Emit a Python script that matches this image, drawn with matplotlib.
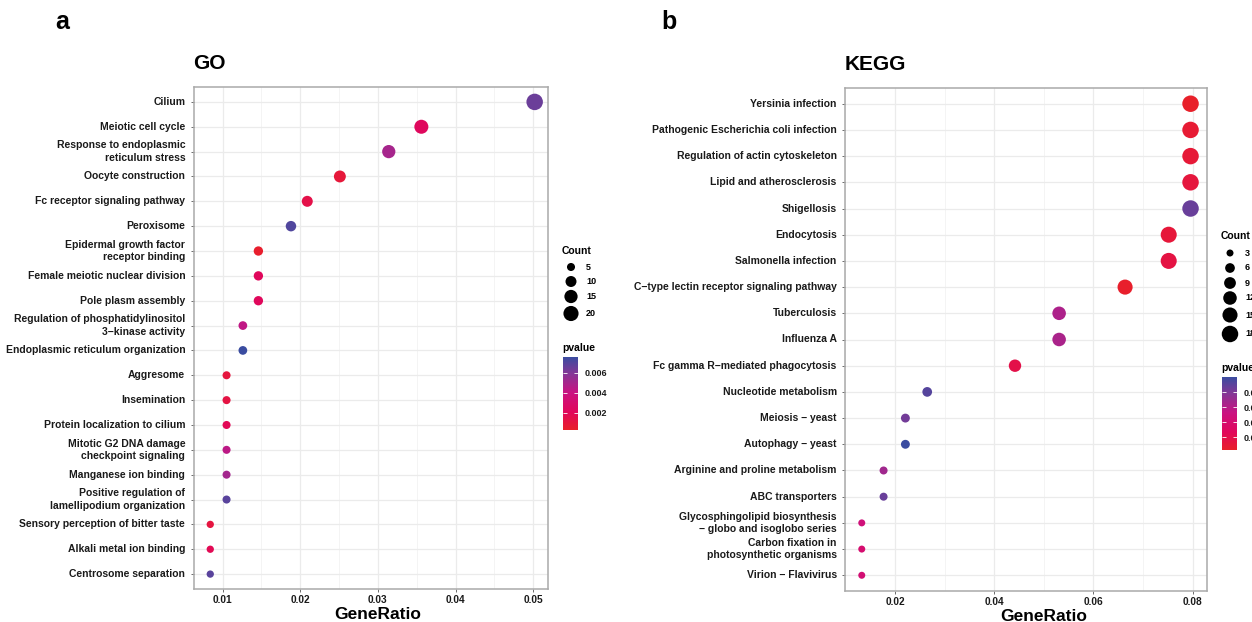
import numpy as np
import matplotlib
matplotlib.use("Agg")
import matplotlib.pyplot as plt
from matplotlib.colors import LinearSegmentedColormap, Normalize
from matplotlib.cm import ScalarMappable
from matplotlib.ticker import MultipleLocator

plt.rcParams['font.family'] = ['Liberation Sans', 'DejaVu Sans']
plt.rcParams['font.weight'] = 'bold'

# GO enrichment
go_terms = ["Cilium", "Meiotic cell cycle", "Response to endoplasmic\nreticulum stress",
            "Oocyte construction", "Fc receptor signaling pathway", "Peroxisome",
            "Epidermal growth factor\nreceptor binding", "Female meiotic nuclear division",
            "Pole plasm assembly", "Regulation of phosphatidylinositol\n3\u2212kinase activity",
            "Endoplasmic reticulum organization", "Aggresome", "Insemination",
            "Protein localization to cilium", "Mitotic G2 DNA damage\ncheckpoint signaling",
            "Manganese ion binding", "Positive regulation of\nlamellipodium organization",
            "Sensory perception of bitter taste", "Alkali metal ion binding",
            "Centrosome separation"]
go_ratio = [0.0502, 0.0356, 0.0314, 0.0251, 0.0209, 0.0188, 0.0146, 0.0146, 0.0146, 0.0126,
            0.0126, 0.0105, 0.0105, 0.0105, 0.0105, 0.0105, 0.0105, 0.0084, 0.0084, 0.0084]
go_count = [24, 17, 15, 12, 10, 9, 7, 7, 7, 6, 6, 5, 5, 5, 5, 5, 5, 4, 4, 4]
go_pvalue = [0.0065, 0.0022, 0.0050, 0.00086, 0.0014, 0.0071, 0.0004, 0.0021, 0.0021, 0.0043,
             0.0076, 0.0010, 0.0012, 0.0019, 0.0044, 0.0051, 0.0069, 0.0011, 0.0018, 0.0069]
go_size_breaks = [5, 10, 15, 20]
go_p_ticks = [0.002, 0.004, 0.006]

# KEGG enrichment
kegg_terms = ["Yersinia infection", "Pathogenic Escherichia coli infection",
              "Regulation of actin cytoskeleton", "Lipid and atherosclerosis", "Shigellosis",
              "Endocytosis", "Salmonella infection", "C\u2212type lectin receptor signaling pathway",
              "Tuberculosis", "Influenza A", "Fc gamma R\u2212mediated phagocytosis",
              "Nucleotide metabolism", "Meiosis \u2212 yeast", "Autophagy \u2212 yeast",
              "Arginine and proline metabolism", "ABC transporters",
              "Glycosphingolipid biosynthesis\n\u2212 globo and isoglobo series",
              "Carbon fixation in\nphotosynthetic organisms", "Virion \u2212 Flavivirus"]
kegg_ratio = [0.0796, 0.0796, 0.0796, 0.0796, 0.0796, 0.0752, 0.0752, 0.0664, 0.0531, 0.0531,
              0.0442, 0.0265, 0.0221, 0.0221, 0.0177, 0.0177, 0.0133, 0.0133, 0.0133]
kegg_count = [18, 18, 18, 18, 18, 17, 17, 15, 12, 12, 10, 6, 5, 5, 4, 4, 3, 3, 3]
kegg_pvalue = [0.0003, 0.0008, 0.0009, 0.0012, 0.0086, 0.0011, 0.0015, 0.0004, 0.0063, 0.0064,
               0.0018, 0.0092, 0.0083, 0.0100, 0.0068, 0.0086, 0.0047, 0.0040, 0.0043]
kegg_size_breaks = [3, 6, 9, 12, 15, 18]
kegg_p_ticks = [0.002, 0.004, 0.006, 0.008]

cmap = LinearSegmentedColormap.from_list(
    "pv", [(0.0, "#E8202A"), (0.24, "#E1075A"), (0.51, "#CA1281"),
           (0.78, "#833796"), (1.0, "#3A4CA0")])

W, H = 1252, 622
fig = plt.figure(figsize=(W / 100, H / 100), dpi=100)


def px_box(l, t, r, b):
    return [l / W, 1 - b / H, (r - l) / W, (b - t) / H]


def dot_area(count, a, b):
    d = a + b * np.sqrt(np.asarray(count, dtype=float))
    return (d * 0.72) ** 2


def dot_panel(box, terms, ratio, count, pvalue, norm, size_ab, xlim, major, title, xlab_x):
    ax = fig.add_axes(box)
    n = len(terms)
    y = np.arange(n)[::-1]
    ax.grid(which='major', color='#EBEBEB', lw=0.9, zorder=0)
    ax.grid(which='minor', axis='x', color='#F2F2F2', lw=0.6, zorder=0)
    ax.scatter(ratio, y, s=dot_area(count, *size_ab), c=pvalue, cmap=cmap, norm=norm,
               edgecolors='none', zorder=3)
    ax.set_xlim(*xlim)
    ax.set_ylim(-0.6, n - 0.4)
    ax.xaxis.set_major_locator(MultipleLocator(major))
    ax.xaxis.set_minor_locator(MultipleLocator(major / 2))
    ax.set_yticks(y)
    ax.set_yticklabels(terms, fontsize=7.5, fontweight='bold', linespacing=1.3, va='center')
    ax.tick_params(axis='x', labelsize=7.3, pad=2)
    ax.tick_params(which='both', length=2.5, width=0.6, color='#555555', labelcolor='#1a1a1a')
    ax.tick_params(which='minor', length=0)
    for sp in ax.spines.values():
        sp.set_color('#AAAAAA')
        sp.set_linewidth(1.1)
    ax.set_xlabel("GeneRatio", fontsize=12.5, fontweight='bold', labelpad=1.5)
    ax.xaxis.label.set_x(xlab_x)
    ax.set_title(title, loc='left', fontsize=15, fontweight='bold', pad=13)
    return ax


go_norm = Normalize(0.00027, 0.0076)
kegg_norm = Normalize(0.00027, 0.0100)

dot_panel(px_box(193.5, 87, 547.7, 589), go_terms, go_ratio, go_count, go_pvalue, go_norm,
          (0.96, 3.17), (0.00624, 0.05188), 0.01, "GO", 0.52)
dot_panel(px_box(845, 88, 1207, 591), kegg_terms, kegg_ratio, kegg_count, kegg_pvalue,
          kegg_norm, (0.45, 3.78), (0.00992, 0.08292), 0.02, "KEGG", 0.55)

fig.text(55 / W, 1 - 22 / H, "a", fontsize=18, fontweight='bold', va='center')
fig.text(661 / W, 1 - 22 / H, "b", fontsize=18, fontweight='bold', va='center')

# legends drawn on an overlay in pixel coordinates
ov = fig.add_axes([0, 0, 1, 1])
ov.set_xlim(0, W)
ov.set_ylim(H, 0)
ov.axis('off')


def size_legend(x0, ytitle, ys, breaks, size_ab):
    ov.text(x0, ytitle, "Count", fontsize=7.5, fontweight='bold', va='center')
    ov.scatter([x0 + 9] * len(breaks), ys, s=dot_area(breaks, *size_ab), c='black',
               edgecolors='none', clip_on=False)
    for yy, b in zip(ys, breaks):
        ov.text(x0 + 24, yy, str(b), fontsize=6.5, fontweight='bold', va='center')


def color_legend(x0, ytitle, top, bottom, norm, ticks):
    ov.text(x0, ytitle, "pvalue", fontsize=7.5, fontweight='bold', va='center')
    cax = fig.add_axes(px_box(x0 + 1, top, x0 + 16, bottom))
    cb = fig.colorbar(ScalarMappable(norm=norm, cmap=cmap), cax=cax, ticks=ticks)
    cb.outline.set_visible(False)
    cax.tick_params(length=3, width=0.6, color='white', direction='in', pad=5,
                    labelsize=6.5, labelcolor='#1a1a1a', left=True)
    cax.set_yticklabels([f"{t:.3f}" for t in ticks], fontweight='bold')


size_legend(562, 251, [267, 281.5, 296.5, 313.5], go_size_breaks, (0.96, 3.17))
color_legend(562, 348, 357, 430, go_norm, go_p_ticks)
size_legend(1221, 236, [253, 268, 283, 298, 315, 334], kegg_size_breaks, (0.45, 3.78))
color_legend(1221, 368, 377, 450, kegg_norm, kegg_p_ticks)

fig.savefig("out.png", dpi=100)
